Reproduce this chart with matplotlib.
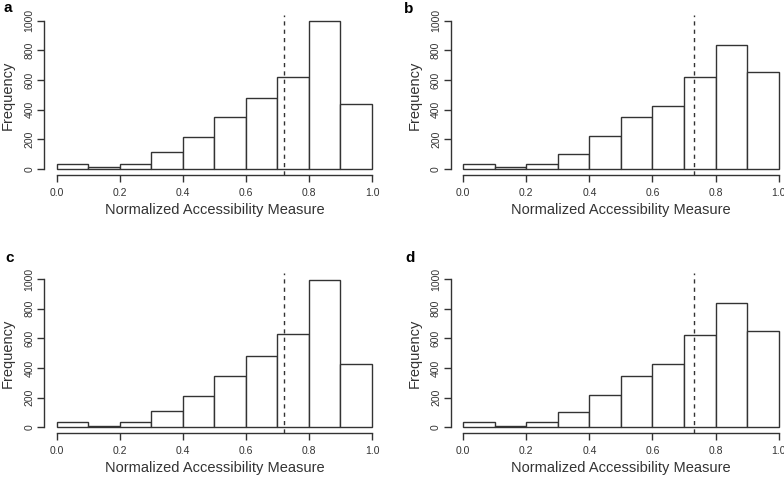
import numpy as np
import matplotlib.pyplot as plt

plt.rcParams['font.family'] = ['Liberation Sans', 'DejaVu Sans']

# bin edges and counts
edges = np.round(np.arange(0, 1.01, 0.1), 2)
counts_a = [36, 14, 35, 115, 216, 353, 481, 618, 995, 436]
counts_b = [36, 14, 35, 103, 225, 351, 427, 620, 838, 654]
counts_c = [35, 12, 35, 113, 214, 349, 484, 628, 993, 426]
counts_d = [35, 12, 35, 104, 221, 349, 430, 624, 838, 651]
cutoffs = [0.72, 0.733, 0.72, 0.733]
labels = ["a", "b", "c", "d"]

W, H = 784, 478
fig = plt.figure(figsize=(W / 100, H / 100), dpi=100)

ink = "#333333"
# left, top pixel of each axes box, and where the panel letter sits
boxes = [(44.1, 14.8), (450.7, 14.8), (44.1, 273.1), (450.7, 273.1)]
letter_pos = [(3.3, 12), (404, 13), (5, 262), (405, 262)]
aw, ah = 340.5, 160.2

for counts, cut, lab, (lx, ty), (tx, tyl) in zip(
        [counts_a, counts_b, counts_c, counts_d], cutoffs, labels, boxes, letter_pos):
    ax = fig.add_axes([lx / W, 1 - (ty + ah) / H, aw / W, ah / H])
    ax.bar(edges[:-1], counts, width=0.1, align="edge", color="white",
           edgecolor=ink, linewidth=1.0)
    ax.axvline(cut, color=ink, linestyle=(0, (3, 3)), linewidth=1.0)
    ax.set_xlim(-0.04, 1.04)
    ax.set_ylim(-40, 1040)
    for s in ["top", "right"]:
        ax.spines[s].set_visible(False)
    ax.spines["bottom"].set_bounds(0, 1)
    ax.spines["left"].set_bounds(0, 1000)
    for s in ["bottom", "left"]:
        ax.spines[s].set_color(ink)
        ax.spines[s].set_linewidth(1.0)
    ax.set_xticks(np.arange(0, 1.01, 0.2))
    ax.set_xticklabels(["0.0", "0.2", "0.4", "0.6", "0.8", "1.0"])
    ax.set_yticks([0, 200, 400, 600, 800, 1000])
    ax.tick_params(axis="both", colors=ink, labelsize=7.5, length=5, width=1.0)
    ax.tick_params(axis="x", pad=4.5)
    ax.tick_params(axis="y", labelrotation=90, pad=2)
    for t in ax.get_yticklabels():
        t.set_va("center")
    ax.set_xlabel("Normalized Accessibility Measure", fontsize=10.5, color=ink, labelpad=3.5)
    ax.set_ylabel("Frequency", fontsize=10.5, color=ink)
    ax.yaxis.set_label_coords(-0.107, 0.5)
    ax.yaxis.label.set_va("center")
    fig.text(tx / W, 1 - tyl / H, lab, fontsize=11, fontweight="bold",
             color="black", ha="left", va="baseline")

fig.savefig("out.png", dpi=100)
